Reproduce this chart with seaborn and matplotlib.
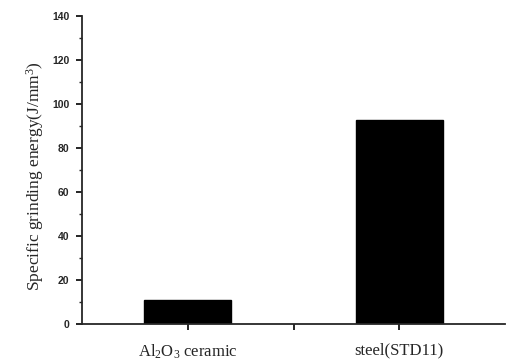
import pandas as pd
import matplotlib
matplotlib.use("Agg")
import matplotlib.pyplot as plt
import seaborn as sns
from matplotlib.ticker import MultipleLocator

materials = ["Al$_2$O$_3$ ceramic", "steel(STD11)"]
energy = [11.2, 92.8]
y_ticks = [0, 20, 40, 60, 80, 100, 120, 140]

df = pd.DataFrame({"material": materials, "energy": energy})

sns.set_style("ticks")
plt.rcParams["font.family"] = ["Liberation Serif", "DejaVu Serif"]
plt.rcParams["mathtext.fontset"] = "custom"
plt.rcParams["mathtext.rm"] = "Liberation Serif"
plt.rcParams["mathtext.it"] = "Liberation Serif:italic"

fig = plt.figure(figsize=(5.11, 3.63), dpi=100)
ax = fig.add_axes([0.1605, 0.107, 0.828, 0.849])

sns.barplot(data=df, x="material", y="energy", color="black", width=0.41,
            saturation=1, ax=ax, edgecolor="black")

ax.set_xlim(-0.5, 1.5)
ax.set_ylim(0, 140)
ax.set_yticks(y_ticks)
ax.set_yticklabels([str(t) for t in y_ticks], fontsize=7.5, fontweight="bold",
                   family="Liberation Sans")
ax.yaxis.set_minor_locator(MultipleLocator(10))
ax.set_xticks([0, 0.5, 1])
ax.set_xticklabels([materials[0], "", materials[1]], fontsize=12)

ax.set_xlabel("")
ax.set_ylabel("Specific grinding energy(J/mm$^3$)", fontsize=12.5)
ax.yaxis.set_label_coords(-0.085, 0.48)

sns.despine(ax=ax)
for side in ["left", "bottom"]:
    ax.spines[side].set_linewidth(1.3)
ax.tick_params(axis="both", which="major", direction="out", length=4, width=1.2,
               color="black")
ax.tick_params(axis="y", which="minor", direction="out", length=2.5, width=1)
ax.tick_params(axis="x", pad=9)
ax.tick_params(axis="y", pad=5)

plt.savefig("out.png", dpi=100)
plt.close()
